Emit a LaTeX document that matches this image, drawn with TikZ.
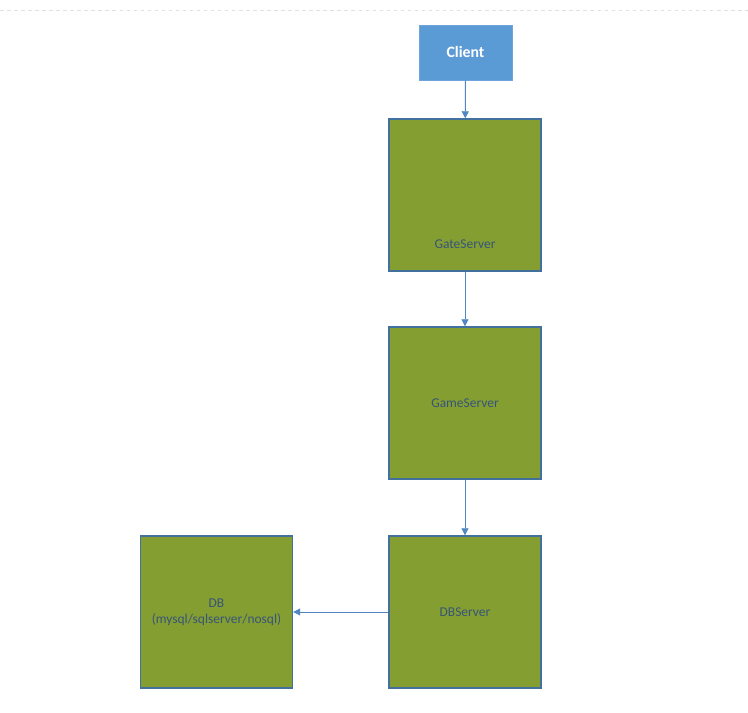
\documentclass[tikz,border=0pt]{standalone}
\usepackage{fontspec}
\setmainfont{Carlito}
\usetikzlibrary{arrows.meta}
\definecolor{olivebox}{RGB}{132,158,50}
\definecolor{boxline}{RGB}{65,113,156}
\definecolor{clientblue}{RGB}{91,155,213}
\definecolor{clientline}{RGB}{110,165,220}
\definecolor{boxtext}{RGB}{55,85,120}
\definecolor{linkblue}{RGB}{80,135,195}
\tikzset{
  server/.style={draw=boxline, line width=1.2pt, fill=olivebox, minimum width=4.56cm, minimum height=4.56cm, text=boxtext, font=\fontsize{11.5}{13.6}\selectfont, align=center},
  client/.style={draw=clientline, line width=0.6pt, fill=clientblue, minimum width=2.79cm, minimum height=1.65cm, text=white, font=\bfseries\fontsize{13.5}{15}\selectfont},
  link/.style={draw=linkblue, line width=0.8pt, -{Triangle[length=6pt,width=6pt]}}
}
\begin{document}
\begin{tikzpicture}[x=0.03cm, y=-0.03cm]
  \useasboundingbox (0,0) rectangle (748,713);
  \draw[black!12, dashed, line width=0.6pt] (0,10) -- (748,10);

  \node[client] (client) at (465.5,52.5) {Client};
  \node[server, label={[text=boxtext, font=\fontsize{11.5}{13.6}\selectfont, anchor=center, yshift=0.84cm]south:GateServer}] (gate) at (465,195) {};
  \node[server] (game) at (465,403) {GameServer};
  \node[server] (dbserver) at (465,612) {DBServer};
  \node[server] (db) at (216.5,612) {DB\\(mysql/sqlserver/nosql)};

  \draw[link] (client) -- (gate);
  \draw[link] (gate) -- (game);
  \draw[link] (game) -- (dbserver);
  \draw[link] (dbserver) -- (db);
\end{tikzpicture}
\end{document}
